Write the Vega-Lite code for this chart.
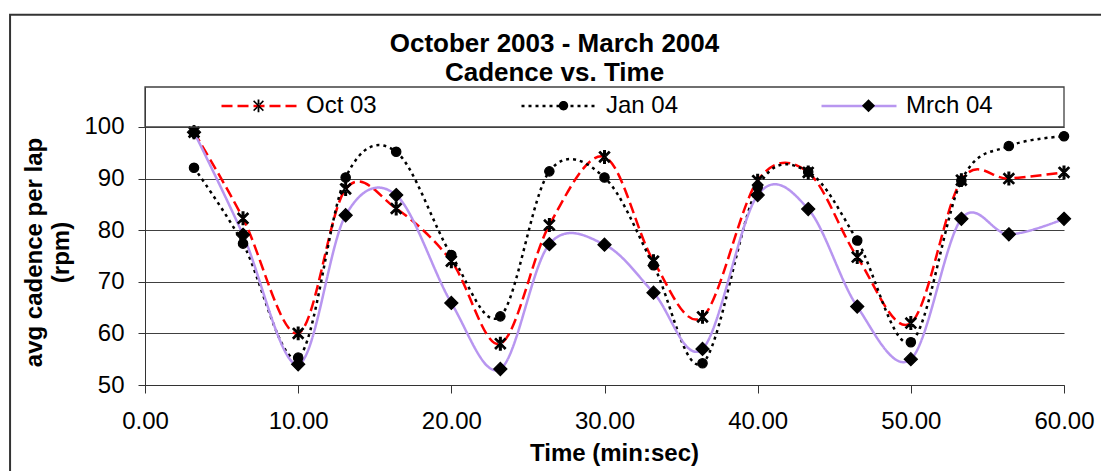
{
  "$schema": "https://vega.github.io/schema/vega-lite/v6.json",
  "usermeta": {"embedOptions": {"actions": false}},
  "width": 919,
  "height": 298,
  "autosize": {"type": "none"},
  "padding": {"left": 145, "top": 87, "right": 37, "bottom": 86},
  "background": "white",
  "config": {"view": {"stroke": null}, "font": "Liberation Sans"},
  "title": {
    "text": ["October 2003 - March 2004", "Cadence vs. Time"],
    "font": "Liberation Sans",
    "fontSize": 26,
    "fontWeight": "bold",
    "lineHeight": 29,
    "color": "black",
    "anchor": "middle",
    "frame": "group",
    "dx": -50,
    "offset": -72
  },
  "data": {
    "values": [
      {"series": "Oct 03", "time": 3.2, "rpm": 99},
      {"series": "Oct 03", "time": 6.4, "rpm": 82.3},
      {"series": "Oct 03", "time": 10, "rpm": 60},
      {"series": "Oct 03", "time": 13.1, "rpm": 88},
      {"series": "Oct 03", "time": 16.4, "rpm": 84.2},
      {"series": "Oct 03", "time": 20, "rpm": 74},
      {"series": "Oct 03", "time": 23.2, "rpm": 58},
      {"series": "Oct 03", "time": 26.4, "rpm": 81},
      {"series": "Oct 03", "time": 30, "rpm": 94.2},
      {"series": "Oct 03", "time": 33.2, "rpm": 74},
      {"series": "Oct 03", "time": 36.4, "rpm": 63.2},
      {"series": "Oct 03", "time": 40, "rpm": 89.6},
      {"series": "Oct 03", "time": 43.3, "rpm": 91.2},
      {"series": "Oct 03", "time": 46.5, "rpm": 74.8},
      {"series": "Oct 03", "time": 50, "rpm": 62},
      {"series": "Oct 03", "time": 53.3, "rpm": 89.7},
      {"series": "Oct 03", "time": 56.4, "rpm": 90},
      {"series": "Oct 03", "time": 60, "rpm": 91.2},
      {"series": "Jan 04", "time": 3.2, "rpm": 92.1},
      {"series": "Jan 04", "time": 6.4, "rpm": 77.4},
      {"series": "Jan 04", "time": 10, "rpm": 55.3},
      {"series": "Jan 04", "time": 13.1, "rpm": 90.2},
      {"series": "Jan 04", "time": 16.4, "rpm": 95.2},
      {"series": "Jan 04", "time": 20, "rpm": 75.2},
      {"series": "Jan 04", "time": 23.2, "rpm": 63.3},
      {"series": "Jan 04", "time": 26.4, "rpm": 91.4},
      {"series": "Jan 04", "time": 30, "rpm": 90.2},
      {"series": "Jan 04", "time": 33.2, "rpm": 73.2},
      {"series": "Jan 04", "time": 36.4, "rpm": 54.2},
      {"series": "Jan 04", "time": 40, "rpm": 88.3},
      {"series": "Jan 04", "time": 43.3, "rpm": 91.3},
      {"series": "Jan 04", "time": 46.5, "rpm": 78},
      {"series": "Jan 04", "time": 50, "rpm": 58.3},
      {"series": "Jan 04", "time": 53.3, "rpm": 89.6},
      {"series": "Jan 04", "time": 56.4, "rpm": 96.3},
      {"series": "Jan 04", "time": 60, "rpm": 98.2},
      {"series": "Mrch 04", "time": 3.2, "rpm": 99},
      {"series": "Mrch 04", "time": 6.4, "rpm": 79.1},
      {"series": "Mrch 04", "time": 10, "rpm": 54},
      {"series": "Mrch 04", "time": 13.1, "rpm": 82.9},
      {"series": "Mrch 04", "time": 16.4, "rpm": 86.8},
      {"series": "Mrch 04", "time": 20, "rpm": 65.9},
      {"series": "Mrch 04", "time": 23.2, "rpm": 53.1},
      {"series": "Mrch 04", "time": 26.4, "rpm": 77.3},
      {"series": "Mrch 04", "time": 30, "rpm": 77.2},
      {"series": "Mrch 04", "time": 33.2, "rpm": 67.9},
      {"series": "Mrch 04", "time": 36.4, "rpm": 57},
      {"series": "Mrch 04", "time": 40, "rpm": 86.8},
      {"series": "Mrch 04", "time": 43.3, "rpm": 84.1},
      {"series": "Mrch 04", "time": 46.5, "rpm": 65.2},
      {"series": "Mrch 04", "time": 50, "rpm": 55},
      {"series": "Mrch 04", "time": 53.3, "rpm": 82.2},
      {"series": "Mrch 04", "time": 56.4, "rpm": 79.2},
      {"series": "Mrch 04", "time": 60, "rpm": 82.2}
    ]
  },
  "layer": [
    {
      "mark": {"type": "line", "interpolate": "cardinal", "strokeWidth": 2.5},
      "encoding": {
        "x": {
          "field": "time",
          "type": "quantitative",
          "scale": {"domain": [0, 60], "nice": false, "zero": false},
          "axis": {
            "values": [0, 10, 20, 30, 40, 50, 60],
            "format": ".2f",
            "title": "Time (min:sec)",
            "grid": false,
            "tickSize": 8,
            "tickColor": "#333333",
            "domainColor": "#333333",
            "labelFont": "Liberation Sans",
            "labelFontSize": 24,
            "labelColor": "black",
            "labelPadding": 16,
            "labelFlush": false,
            "labelOverlap": false,
            "titleFont": "Liberation Sans",
            "titleFontSize": 24,
            "titleFontWeight": "bold",
            "titleColor": "black",
            "titleX": 469,
            "titleY": 75,
            "titleBaseline": "alphabetic",
            "titleAlign": "center"
          }
        },
        "y": {
          "field": "rpm",
          "type": "quantitative",
          "scale": {"domain": [50, 107.75], "nice": false, "zero": false},
          "axis": {
            "values": [50, 60, 70, 80, 90, 100],
            "title": ["avg cadence per lap", "(rpm)"],
            "grid": true,
            "gridColor": "#404040",
            "gridWidth": 1,
            "gridOpacity": 1,
            "tickSize": 7,
            "tickColor": "#333333",
            "domainColor": "#333333",
            "labelFont": "Liberation Sans",
            "labelFontSize": 24,
            "labelColor": "black",
            "labelPadding": 14,
            "labelOverlap": false,
            "titleFont": "Liberation Sans",
            "titleFontSize": 24,
            "titleFontWeight": "bold",
            "titleColor": "black",
            "titleLineHeight": 27,
            "titleAngle": 270,
            "titleX": -104,
            "titleY": 165,
            "titleAlign": "center",
            "titleBaseline": "alphabetic"
          }
        },
        "color": {
          "field": "series",
          "type": "nominal",
          "scale": {"domain": ["Oct 03", "Jan 04", "Mrch 04"], "range": ["#ff0000", "#000000", "#b896f0"]},
          "legend": {
            "orient": "none",
            "legendX": 75,
            "legendY": -20,
            "direction": "horizontal",
            "title": null,
            "symbolType": "stroke",
            "symbolSize": 5625,
            "symbolStrokeWidth": 2.5,
            "labelFont": "Liberation Sans",
            "labelFontSize": 24,
            "labelColor": "black",
            "labelOffset": 8,
            "columnPadding": 123,
            "gridAlign": "all",
            "padding": 0
          }
        },
        "strokeDash": {
          "field": "series",
          "type": "nominal",
          "scale": {"domain": ["Oct 03", "Jan 04", "Mrch 04"], "range": [[11, 5], [3, 4], [1, 0]]},
          "legend": {
            "orient": "none",
            "legendX": 75,
            "legendY": -20,
            "direction": "horizontal",
            "title": null,
            "symbolType": "stroke",
            "symbolSize": 5625,
            "symbolStrokeWidth": 2.5,
            "labelFont": "Liberation Sans",
            "labelFontSize": 24,
            "labelColor": "black",
            "labelOffset": 8,
            "columnPadding": 123,
            "gridAlign": "all",
            "padding": 0
          }
        }
      }
    },
    {
      "mark": {"type": "point", "filled": true, "fill": "black", "stroke": "black", "strokeWidth": 1.2, "size": 5625, "opacity": 1},
      "encoding": {
        "x": {"field": "time", "type": "quantitative"},
        "y": {"field": "rpm", "type": "quantitative"},
        "shape": {
          "field": "series",
          "type": "nominal",
          "sort": ["Oct 03", "Jan 04", "Mrch 04"],
          "scale": {
            "range": [
              "M-0.116,-0.144L0.144,0.116L0.116,0.144L-0.144,-0.116ZM0.116,-0.144L-0.144,0.116L-0.116,0.144L0.144,-0.116ZM-0.024,-0.17L0.024,-0.17L0.024,0.17L-0.024,0.17Z",
              "M0.125,0A0.125,0.125,0,1,1,-0.125,0A0.125,0.125,0,1,1,0.125,0Z",
              "M0,-0.175L0.175,0L0,0.175L-0.175,0Z"
            ]
          },
          "legend": {
            "orient": "none",
            "legendX": 75,
            "legendY": -20,
            "direction": "horizontal",
            "title": null,
            "symbolSize": 5625,
            "symbolFillColor": "black",
            "symbolStrokeColor": "black",
            "symbolStrokeWidth": 1.2,
            "symbolOpacity": 1,
            "labelExpr": "''",
            "labelFont": "Liberation Sans",
            "labelFontSize": 24,
            "labelOffset": 8,
            "columnPadding": 220,
            "gridAlign": "all",
            "padding": 0,
            "encode": {
              "symbols": {
                "update": {
                  "stroke": {"value": "black"},
                  "fill": {"value": "black"},
                  "strokeWidth": {"value": 1.2},
                  "opacity": {"value": 1}
                }
              }
            }
          }
        }
      }
    },
    {
      "data": {"values": [{}]},
      "mark": {"type": "rect", "filled": false, "stroke": "#404040", "strokeWidth": 1.3},
      "encoding": {
        "x": {"datum": 0, "type": "quantitative"},
        "x2": {"datum": 60},
        "y": {"datum": 100, "type": "quantitative"},
        "y2": {"datum": 107.75}
      }
    },
    {
      "data": {"values": [{}]},
      "mark": {"type": "rect", "filled": false, "stroke": "#333333", "strokeWidth": 2},
      "encoding": {
        "x": {"datum": -8.81, "type": "quantitative"},
        "x2": {"datum": 70},
        "y": {"datum": 121.75, "type": "quantitative"},
        "y2": {"datum": 30}
      }
    }
  ]
}
